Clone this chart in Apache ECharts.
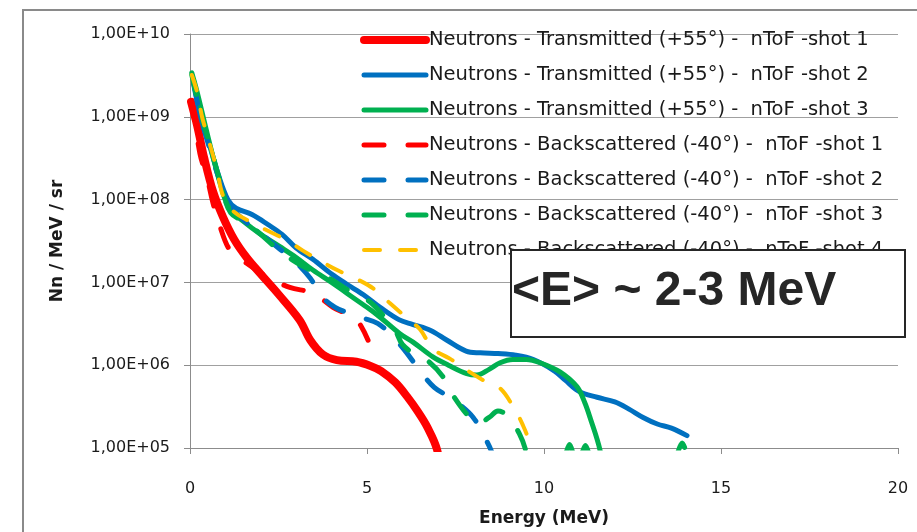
<!DOCTYPE html>
<html>
<head>
<meta charset="utf-8">
<script src="https://cdn.jsdelivr.net/npm/echarts@6/dist/echarts.min.js"></script>
<style>html,body{margin:0;padding:0;background:#fff;}#c{width:917px;height:532px;}</style>
</head>
<body>
<div id="c"></div>
<script>
// ---- data: [energy (MeV), Nn / MeV / sr] ----
const seriesNames = [
  'Neutrons - Transmitted (+55°) -  nToF -shot 1',
  'Neutrons - Transmitted (+55°) -  nToF -shot 2',
  'Neutrons - Transmitted (+55°) -  nToF -shot 3',
  'Neutrons - Backscattered (-40°) -  nToF -shot 1',
  'Neutrons - Backscattered (-40°) -  nToF -shot 2',
  'Neutrons - Backscattered (-40°) -  nToF -shot 3',
  'Neutrons - Backscattered (-40°) -  nToF -shot 4'
];
const transShot1 = [[0.03,1.51e9],[0.2,7.9e8],[0.4,3.2e8],[0.65,1.26e8],[0.93,6.2e7],[1.25,3.3e7],[1.6,2.0e7],[2.0,1.26e7],[2.5,7.2e6],[3.1,3.5e6],[3.4,2.0e6],[3.75,1.35e6],[4.15,1.15e6],[4.7,1.1e6],[5.1,9.8e5],[5.4,8.5e5],[5.8,6.2e5],[6.13,4.2e5],[6.45,2.7e5],[6.7,1.8e5],[6.98,9.5e4],[7.15,3.2e4]];
const transShot2 = [[0.1,2.75e9],[0.3,1.0e9],[0.56,4.4e8],[0.8,2.0e8],[1.07,1.0e8],[1.3,7.9e7],[1.75,6.6e7],[2.2,5.0e7],[2.6,3.8e7],[3.0,2.6e7],[3.47,1.9e7],[4.0,1.26e7],[4.43,9.5e6],[4.9,7.1e6],[5.37,5.0e6],[5.9,3.55e6],[6.3,3.1e6],[6.8,2.63e6],[7.26,2.0e6],[7.8,1.48e6],[8.2,1.41e6],[8.7,1.38e6],[9.2,1.32e6],[9.7,1.17e6],[10.3,8.5e5],[10.6,6.6e5],[11.0,4.8e5],[11.5,4.1e5],[12.0,3.6e5],[12.4,2.95e5],[12.8,2.34e5],[13.2,1.95e5],[13.6,1.74e5],[14.04,1.41e5]];
const transShot3 = [[0.05,3.4e9],[0.2,2.0e9],[0.4,8.9e8],[0.6,4.0e8],[0.85,1.58e8],[1.1,7.9e7],[1.5,5.5e7],[2.0,3.8e7],[2.54,2.7e7],[3.0,2.0e7],[3.47,1.41e7],[4.0,1.0e7],[4.43,7.4e6],[5.0,5.0e6],[5.37,3.8e6],[5.93,2.4e6],[6.3,1.9e6],[6.86,1.26e6],[7.3,1.0e6],[7.82,7.9e5],[8.1,7.6e5],[8.45,8.9e5],[8.76,1.07e6],[9.12,1.17e6],[9.5,1.17e6],[9.89,1.07e6],[10.45,8.3e5],[10.93,5.5e5],[11.15,3.55e5],[11.3,2.34e5],[11.58,9.5e4],[11.7,4.0e4]];
const backShot1 = [[0.05,1.58e9],[0.28,3.6e8],[0.48,1.86e8],[0.65,9.1e7],[0.85,4.7e7],[1.13,2.45e7],[1.6,1.7e7],[2.18,1.17e7],[2.82,8.7e6],[3.47,7.4e6],[4.04,5.0e6],[4.4,4.2e6],[4.72,3.5e6],[5.03,2.0e6]];
const backShot2 = [[0.1,2.5e9],[0.3,1.0e9],[0.55,4.2e8],[0.8,1.9e8],[1.1,8.9e7],[1.6,5.25e7],[1.9,4.2e7],[2.5,2.6e7],[3.0,1.74e7],[3.4,1.12e7],[3.75,6.6e6],[4.1,5.0e6],[4.45,4.3e6],[4.9,3.7e6],[5.3,3.2e6],[5.65,2.4e6],[6.1,1.45e6],[6.5,8.5e5],[6.9,5.4e5],[7.3,4.2e5],[7.6,3.4e5],[8.0,2.34e5],[8.3,1.41e5],[8.55,8.3e4],[8.7,4.0e4]];
const backShot3 = [[0.05,3.2e9],[0.3,1.12e9],[0.6,4.0e8],[0.9,1.41e8],[1.15,6.9e7],[1.6,5.25e7],[2.0,3.8e7],[2.35,2.8e7],[2.9,1.86e7],[3.3,1.48e7],[3.7,1.26e7],[4.05,1.05e7],[4.5,7.9e6],[4.85,6.8e6],[5.2,5.25e6],[5.5,3.8e6],[5.8,2.63e6],[6.0,1.78e6],[6.4,1.32e6],[6.75,1.1e6],[7.15,7.2e5],[7.45,4.2e5],[7.9,2.34e5],[8.15,2.0e5],[8.45,2.34e5],[8.7,2.8e5],[8.95,2.5e5],[9.3,1.5e5],[9.5,8.7e4],[9.6,4.0e4],
  null,[10.6,7.9e4],[10.72,1.1e5],[10.84,7.9e4],
  null,[11.05,7.9e4],[11.17,1.07e5],[11.29,7.9e4],
  null,[13.75,7.9e4],[13.9,1.15e5],[14.05,7.9e4]];
const backShot4 = [[0.05,3.2e9],[0.2,2.0e9],[0.34,1.0e9],[0.5,5.75e8],[0.76,2.29e8],[0.93,1.12e8],[1.2,7.4e7],[1.7,5.4e7],[2.2,4.2e7],[2.75,3.2e7],[3.2,2.4e7],[3.8,1.7e7],[4.2,1.38e7],[4.8,1.05e7],[5.2,8.3e6],[5.65,5.6e6],[6.1,3.8e6],[6.5,2.7e6],[6.86,1.58e6],[7.34,1.2e6],[7.82,8.7e5],[8.28,6.6e5],[8.76,5.25e5],[9.12,3.2e5],[9.4,1.9e5],[9.62,1.05e5],[9.75,4.0e4]];
const yTickLabels = ['1,00E+05','1,00E+06','1,00E+07','1,00E+08','1,00E+09','1,00E+10'];
const xTicks = [0, 5, 10, 15, 20];
const annotation = '<E> ~ 2-3 MeV';

const allData = [transShot1, transShot2, transShot3, backShot1, backShot2, backShot3, backShot4];
const colors = ['#ff0000', '#0070c0', '#00b050', '#ff0000', '#0070c0', '#00b050', '#ffc000'];
const widths = [8, 5, 5, 5, 5, 5, 4];
const dashes = ['solid', 'solid', 'solid', [20, 24], [20, 24], [20, 24], [16, 20]];

const chart = echarts.init(document.getElementById('c'), null, {renderer: 'canvas'});
const FONT = 'DejaVu Sans';
const option = {
  animation: false,
  backgroundColor: '#ffffff',
  grid: {left: 190, right: 19, top: 34, bottom: 84},
  legend: {
    orient: 'vertical', left: 360, top: 30, padding: 0,
    itemWidth: 62, itemHeight: 14, itemGap: 15,
    data: seriesNames,
    itemStyle: {opacity: 0},
    lineStyle: {width: 'inherit'},
    textStyle: {fontFamily: FONT, fontSize: 19.5, color: '#1a1a1a', lineHeight: 20, padding: [0, 0, 0, -2]},
    selectedMode: false
  },
  xAxis: {
    type: 'value', min: xTicks[0], max: xTicks[xTicks.length - 1], interval: 5,
    name: 'Energy (MeV)', nameLocation: 'middle', nameGap: 62,
    nameTextStyle: {fontFamily: FONT, fontSize: 17, fontWeight: 'bold', color: '#1a1a1a'},
    axisLine: {lineStyle: {color: '#8c8c8c', width: 1}},
    axisTick: {show: true, length: 6, lineStyle: {color: '#8c8c8c'}},
    axisLabel: {fontFamily: FONT, fontSize: 16, color: '#1a1a1a', margin: 33},
    splitLine: {show: false}
  },
  yAxis: {
    type: 'log', logBase: 10, min: 1e5, max: 1e10,
    name: 'Nn / MeV / sr', nameLocation: 'middle', nameGap: 124,
    nameTextStyle: {fontFamily: FONT, fontSize: 17, fontWeight: 'bold', color: '#1a1a1a'},
    axisLine: {show: true, lineStyle: {color: '#8c8c8c', width: 1}},
    axisTick: {show: true, length: 6, lineStyle: {color: '#8c8c8c'}},
    axisLabel: {
      fontFamily: FONT, fontSize: 16, color: '#1a1a1a', margin: 20,
      formatter: function (v) {
        const i = Math.round(Math.log10(v)) - 5;
        return yTickLabels[i] || '';
      }
    },
    splitLine: {show: true, lineStyle: {color: '#a0a0a0', width: 1}}
  },
  graphic: [
    {type: 'rect', z: -10, silent: true, shape: {x: 23, y: 10, width: 1000, height: 600},
     style: {fill: 'none', stroke: '#8a8a8a', lineWidth: 2}},
    {type: 'rect', z: 100, silent: true, shape: {x: 511, y: 250, width: 394, height: 87},
     style: {fill: '#ffffff', stroke: '#262626', lineWidth: 2}},
    {type: 'text', z: 101, silent: true, x: 512, y: 292,
     style: {text: annotation, font: 'bold 48px "Liberation Sans", Arial, sans-serif', fill: '#262626', verticalAlign: 'middle', align: 'left'}}
  ],
  series: allData.map(function (d, i) {
    return {
      name: seriesNames[i], type: 'line', data: d, smooth: 0.35, symbol: 'none',
      connectNulls: false, clip: true,
      lineStyle: {color: colors[i], width: widths[i], type: dashes[i], cap: 'round', join: 'round'},
      itemStyle: {color: colors[i]},
      z: 2 + i
    };
  })
};
chart.setOption(option);
</script>
</body>
</html>
